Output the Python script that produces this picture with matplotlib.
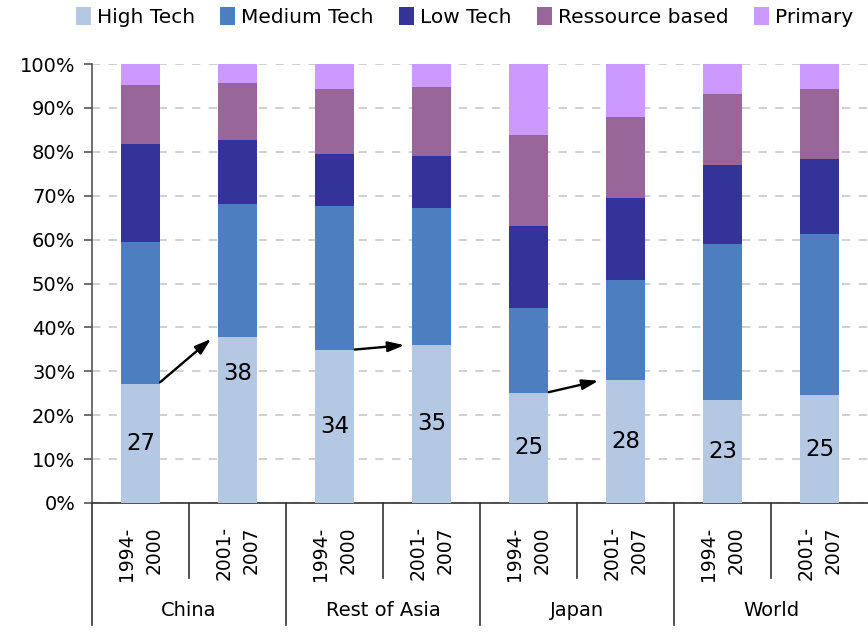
import matplotlib
matplotlib.use("Agg")
import matplotlib.pyplot as plt
import numpy as np

# shares of exports by technology class (%)
regions = ["China", "Rest of Asia", "Japan", "World"]
periods = ["1994-\n2000", "2001-\n2007"]
series = ["High Tech", "Medium Tech", "Low Tech", "Ressource based", "Primary"]
colors = ["#B4C7E3", "#4D7FC0", "#333399", "#996699", "#CC99FF"]

high_tech = [27.1, 37.8, 34.9, 36.0, 25.1, 28.0, 23.5, 24.6]
medium_tech = [32.4, 30.3, 32.8, 31.2, 19.3, 22.8, 35.5, 36.7]
low_tech = [22.3, 14.6, 11.8, 11.8, 18.7, 18.7, 18.0, 17.1]
resource = [13.4, 13.0, 14.8, 15.8, 20.7, 18.4, 16.2, 15.9]
primary = [4.8, 4.3, 5.7, 5.2, 16.2, 12.1, 6.8, 5.7]

labels = [27, 38, 34, 35, 25, 28, 23, 25]
label_frac = [0.5, 0.78, 0.5, 0.5, 0.5, 0.5, 0.5, 0.5]
arrow_pairs = [(0, 1), (2, 3), (4, 5)]

fig = plt.figure(figsize=(8.68, 6.32), dpi=100)
ax = fig.add_axes([92 / 868, 1 - 503 / 632, 1 - 92 / 868, 439 / 632])
ax.set_axisbelow(True)

x = np.arange(len(high_tech))
bottom = np.zeros(len(x))
for name, vals, c in zip(series, [high_tech, medium_tech, low_tech, resource, primary], colors):
    ax.bar(x, vals, 0.4, bottom=bottom, color=c, label=name, zorder=3)
    bottom += np.array(vals)

for i, (v, f) in enumerate(zip(labels, label_frac)):
    ax.text(i, high_tech[i] * f, str(v), ha="center", va="center", fontsize=16.5, zorder=4)

for a, b in arrow_pairs:
    ax.annotate("", xy=(b - 0.25, high_tech[b]), xytext=(a + 0.18, high_tech[a]),
                arrowprops=dict(arrowstyle="-|>,head_length=0.7,head_width=0.22", color="black",
                                lw=1.7, mutation_scale=14),
                zorder=5)

ax.set_xlim(-0.5, 7.5)
ax.set_ylim(0, 100)
ax.set_yticks(np.arange(0, 101, 10))
ax.set_yticklabels([f"{t}%" for t in range(0, 101, 10)], fontsize=14)
ax.tick_params(axis="y", length=6, width=1.2, color="#555555", pad=6)
ax.set_xticks([])
ax.yaxis.grid(True, linestyle=(0, (5, 5)), color="#C8C8C8", lw=1.2)
for s in ["top", "right"]:
    ax.spines[s].set_visible(False)
ax.spines["left"].set_color("#555555")
ax.spines["left"].set_linewidth(1.2)
ax.spines["bottom"].set_color("#333333")
ax.spines["bottom"].set_linewidth(1.2)

# two-level category axis
tr = ax.get_xaxis_transform()
for i in range(len(x)):
    ax.text(i, -0.053, periods[i % 2], rotation=90, ha="center", va="top",
            multialignment="right", linespacing=1.55, fontsize=13.5, transform=tr)
for i in range(1, len(x), 2):
    ax.plot([i - 0.5, i - 0.5], [0, -0.171], transform=tr, color="#333333", lw=1.2, clip_on=False)
for g in range(len(regions)):
    ax.plot([2 * g - 0.5, 2 * g - 0.5], [0, -0.278], transform=tr, color="#333333", lw=1.2, clip_on=False)
    ax.text(2 * g + 0.5, -0.244, regions[g], ha="center", va="center", fontsize=14, transform=tr)

fig.legend(loc="upper center", bbox_to_anchor=(0.535, 1.018), ncol=5, frameon=False,
           fontsize=14.5, handlelength=0.75, handleheight=1.0, handletextpad=0.3, columnspacing=1.25)

fig.savefig("out.png", dpi=100)
